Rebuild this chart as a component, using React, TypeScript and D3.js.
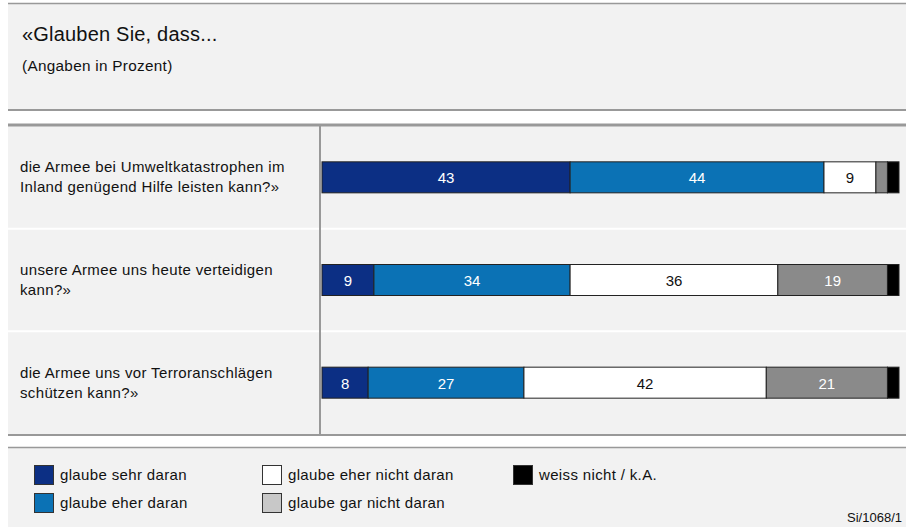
import { useEffect, useRef } from "react";
import * as d3 from "d3";

const questions = [
  ["die Armee bei Umweltkatastrophen im", "Inland genügend Hilfe leisten kann?»"],
  ["unsere Armee uns heute verteidigen", "kann?»"],
  ["die Armee uns vor Terroranschlägen", "schützen kann?»"],
];
const categories = [
  "glaube sehr daran",
  "glaube eher daran",
  "glaube eher nicht daran",
  "glaube gar nicht daran",
  "weiss nicht / k.A.",
];
const sehr = [43, 9, 8];
const eher = [44, 34, 27];
const eherNicht = [9, 36, 42];
const garNicht = [2, 19, 21];
const weissNicht = [2, 2, 2];

const barColors = ["#0c2f84", "#0b72b5", "#ffffff", "#8a8a8a", "#000000"];
const legendColors = ["#0c2f84", "#0b72b5", "#ffffff", "#c8c8c8", "#000000"];
const textColors = ["#fff", "#fff", "#111", "#fff", "#fff"];

const FONT = "'Liberation Sans', Arial, sans-serif";

export default function App() {
  const ref = useRef<SVGSVGElement>(null);

  useEffect(() => {
    const svg = d3.select(ref.current);
    svg.selectAll("*").remove();
    const W = 906;

    // panels
    svg.append("rect").attr("x", 8).attr("y", 3).attr("width", W - 8).attr("height", 107).attr("fill", "#f2f2f2");
    svg.append("rect").attr("x", 8).attr("y", 124).attr("width", W - 8).attr("height", 311).attr("fill", "#f2f2f2");
    svg.append("rect").attr("x", 8).attr("y", 447).attr("width", W - 8).attr("height", 80).attr("fill", "#f2f2f2");

    const hline = (y: number, w: number, c = "#999") =>
      svg.append("line").attr("x1", 8).attr("x2", W).attr("y1", y).attr("y2", y).attr("stroke", c).attr("stroke-width", w);
    hline(3.5, 1.5);
    hline(110, 2);
    hline(125, 3);
    hline(435, 2);
    hline(447.5, 1.5);

    // title
    svg.append("text").attr("x", 22).attr("y", 41).attr("font-family", FONT).attr("font-size", 20)
      .attr("letter-spacing", 0.2).attr("fill", "#111").text("«Glauben Sie, dass...");
    svg.append("text").attr("x", 22).attr("y", 71).attr("font-family", FONT).attr("font-size", 15.3)
      .attr("letter-spacing", 0.3).attr("fill", "#111").text("(Angaben in Prozent)");

    const y = d3.scaleBand<number>().domain(d3.range(questions.length)).range([126, 434]);
    const x = d3.scaleLinear().domain([0, 100]).range([322, 899]);
    const barH = 31;

    // row separators
    d3.range(1, questions.length).forEach((i) => {
      const yy = y(i)!;
      svg.append("line").attr("x1", 8).attr("x2", W).attr("y1", yy).attr("y2", yy).attr("stroke", "#fff").attr("stroke-width", 2);
    });

    // divider
    svg.append("line").attr("x1", 320).attr("x2", 320).attr("y1", 126).attr("y2", 435).attr("stroke", "#999").attr("stroke-width", 2);

    const series = [sehr, eher, eherNicht, garNicht, weissNicht];
    questions.forEach((q, i) => {
      const cy = y(i)! + y.bandwidth() / 2;
      const t = svg.append("text").attr("font-family", FONT).attr("font-size", 15)
        .attr("letter-spacing", 0.35).attr("fill", "#111");
      t.append("tspan").attr("x", 20).attr("y", cy - 5).text(q[0]);
      t.append("tspan").attr("x", 20).attr("y", cy + 15).text(q[1]);

      let acc = 0;
      series.forEach((s, k) => {
        const v = s[i];
        const x0 = x(acc);
        const x1 = x(acc + v);
        acc += v;
        svg.append("rect").attr("x", x0).attr("y", cy - barH / 2).attr("width", x1 - x0).attr("height", barH)
          .attr("fill", barColors[k]).attr("stroke", "#222").attr("stroke-width", 1);
        if (v >= 5) {
          svg.append("text").attr("x", (x0 + x1) / 2).attr("y", cy + 6).attr("text-anchor", "middle")
            .attr("font-family", FONT).attr("font-size", 15).attr("fill", textColors[k]).text(v);
        }
      });
    });

    // legend
    const legendPos = [
      [34, 465], [34, 493], [262, 465], [262, 493], [513, 465],
    ];
    categories.forEach((c, k) => {
      const [lx, ly] = legendPos[k];
      svg.append("rect").attr("x", lx + 0.5).attr("y", ly + 0.5).attr("width", 19).attr("height", 19)
        .attr("fill", legendColors[k]).attr("stroke", "#333").attr("stroke-width", 1);
      svg.append("text").attr("x", lx + 26).attr("y", ly + 15).attr("font-family", FONT).attr("font-size", 15)
        .attr("letter-spacing", 0.35).attr("fill", "#111").text(c);
    });

    svg.append("text").attr("x", 902).attr("y", 522).attr("text-anchor", "end").attr("font-family", FONT)
      .attr("font-size", 13).attr("fill", "#111").text("Si/1068/1");
  }, []);

  return (
    <svg ref={ref} width={906} height={527} style={{ position: "absolute", left: 0, top: 0, background: "#fff" }} />
  );
}
